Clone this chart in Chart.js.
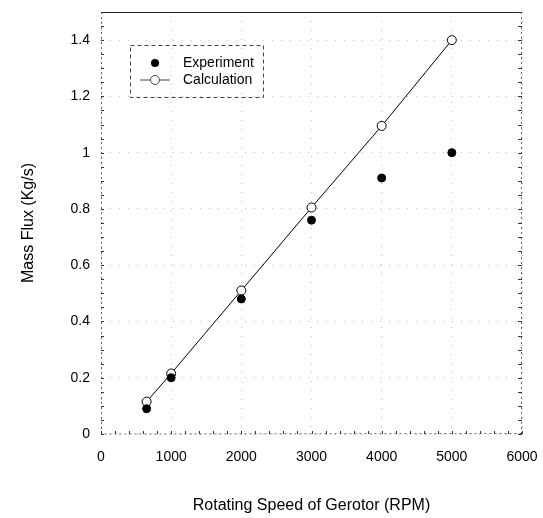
<!DOCTYPE html>
<html>
<head>
<meta charset="utf-8">
<script src="https://cdn.jsdelivr.net/npm/chart.js@4"></script>
<style>
  html, body { margin: 0; padding: 0; background: #fff; }
  #wrap { width: 543px; height: 518px; }
</style>
</head>
<body>
<div id="wrap"><canvas id="myChart" width="543" height="518"></canvas></div>
<script>
// values
const rpm = [650, 1000, 2000, 3000, 4000, 5000]
const experiment = [0.09, 0.20, 0.48, 0.76, 0.91, 1.00]
const calculation = [0.115, 0.215, 0.51, 0.805, 1.095, 1.40]

const xTitle = 'Rotating Speed of Gerotor (RPM)'
const yTitle = 'Mass Flux (Kg/s)'

const toPoints = (ys) => rpm.map((x, i) => ({ x: x, y: ys[i] }))

// frame + minor ticks, drawn through the scales
const framePlugin = {
  id: 'frame',
  afterDatasetsDraw(chart) {
    const { ctx, chartArea: a, scales } = chart
    ctx.save()
    ctx.strokeStyle = '#222'
    ctx.lineWidth = 1
    // solid top
    ctx.beginPath()
    ctx.moveTo(a.left, a.top + 0.5)
    ctx.lineTo(a.right, a.top + 0.5)
    ctx.stroke()
    // dotted other sides
    ctx.setLineDash([2, 3])
    ctx.strokeStyle = '#666'
    ctx.beginPath()
    ctx.moveTo(a.left + 0.5, a.top)
    ctx.lineTo(a.left + 0.5, a.bottom)
    ctx.lineTo(a.right, a.bottom - 0.5)
    ctx.moveTo(a.right - 0.5, a.top)
    ctx.lineTo(a.right - 0.5, a.bottom)
    ctx.stroke()
    ctx.setLineDash([])
    // minor ticks
    ctx.strokeStyle = '#333'
    ctx.beginPath()
    for (let v = 0; v <= 1.5001; v += 0.05) {
      const py = Math.round(scales.y.getPixelForValue(v)) + 0.5
      ctx.moveTo(a.left, py); ctx.lineTo(a.left + 3, py)
      ctx.moveTo(a.right, py); ctx.lineTo(a.right - 4, py)
    }
    for (let v = 0; v <= 6000; v += 200) {
      const px = Math.round(scales.x.getPixelForValue(v)) + 0.5
      ctx.moveTo(px, a.bottom); ctx.lineTo(px, a.bottom - 3)
    }
    ctx.stroke()
    ctx.restore()
  }
}

// legend box inside the plot, top left
const legendPlugin = {
  id: 'boxLegend',
  afterDraw(chart) {
    const { ctx, chartArea: a } = chart
    const x0 = a.left + 29, y0 = a.top + 33, w = 133, h = 52
    ctx.save()
    ctx.strokeStyle = '#444'
    ctx.lineWidth = 1
    ctx.setLineDash([4, 3])
    ctx.strokeRect(x0 + 0.5, y0 + 0.5, w, h)
    ctx.setLineDash([])
    ctx.font = '14px "Liberation Sans", Arial, sans-serif'
    ctx.fillStyle = '#000'
    ctx.textBaseline = 'middle'
    const ds = chart.data.datasets
    // Experiment
    let ly = y0 + 18
    ctx.beginPath()
    ctx.arc(x0 + 25, ly, 4, 0, Math.PI * 2)
    ctx.fill()
    ctx.fillText(ds[0].label, x0 + 53, ly)
    // Calculation
    ly = y0 + 35
    ctx.beginPath()
    ctx.moveTo(x0 + 10, ly); ctx.lineTo(x0 + 40, ly)
    ctx.stroke()
    ctx.beginPath()
    ctx.fillStyle = '#fff'
    ctx.arc(x0 + 25, ly, 4.5, 0, Math.PI * 2)
    ctx.fill(); ctx.stroke()
    ctx.fillStyle = '#000'
    ctx.fillText(ds[1].label, x0 + 53, ly)
    ctx.restore()
  }
}

const fam = '"Liberation Sans", Arial, sans-serif'
const tickFont = { family: fam, size: 14 }
const titleFont = { family: fam, size: 16 }

const ctx = document.getElementById('myChart').getContext('2d')
const chart = new Chart(ctx, {
  type: 'scatter',
  data: {
    datasets: [
      {
        label: 'Experiment',
        data: toPoints(experiment),
        showLine: false,
        pointRadius: 4,
        pointBackgroundColor: '#000',
        pointBorderColor: '#000',
        pointBorderWidth: 1
      }, {
        label: 'Calculation',
        data: toPoints(calculation),
        showLine: true,
        borderColor: '#000',
        borderWidth: 1,
        pointRadius: 4.5,
        pointBackgroundColor: '#fff',
        pointBorderColor: '#000',
        pointBorderWidth: 1
      }
    ]
  },
  options: {
    responsive: false,
    animation: false,
    layout: { padding: { top: 12, right: 21, left: 0, bottom: 0 } },
    plugins: {
      legend: { display: false },
      tooltip: { enabled: false }
    },
    scales: {
      x: {
        type: 'linear',
        min: 0,
        max: 6000,
        afterFit: (s) => { s.height = 84; s.paddingLeft = 0; s.paddingRight = 0 },
        border: { display: false, dash: [1, 8] },
        grid: { color: 'rgba(0,0,0,0.25)', lineWidth: 1, drawTicks: false },
        ticks: { stepSize: 1000, padding: 15, color: '#000', font: tickFont, maxRotation: 0,
          callback: (v) => String(v) },
        title: { display: true, text: xTitle, color: '#000', font: titleFont, padding: { bottom: 3 } }
      },
      y: {
        min: 0,
        max: 1.5,
        afterFit: (s) => { s.width = 101; s.paddingTop = 0; s.paddingBottom = 0 },
        border: { display: false, dash: [1, 8] },
        grid: { color: 'rgba(0,0,0,0.25)', lineWidth: 1, drawTicks: false },
        ticks: { stepSize: 0.2, includeBounds: false, padding: 11, color: '#000', font: tickFont,
          callback: (v) => String(parseFloat(v.toFixed(2))) },
        title: { display: true, text: yTitle, color: '#000', font: titleFont, padding: { top: 19 } }
      }
    }
  },
  plugins: [framePlugin, legendPlugin]
})
</script>
</body>
</html>
